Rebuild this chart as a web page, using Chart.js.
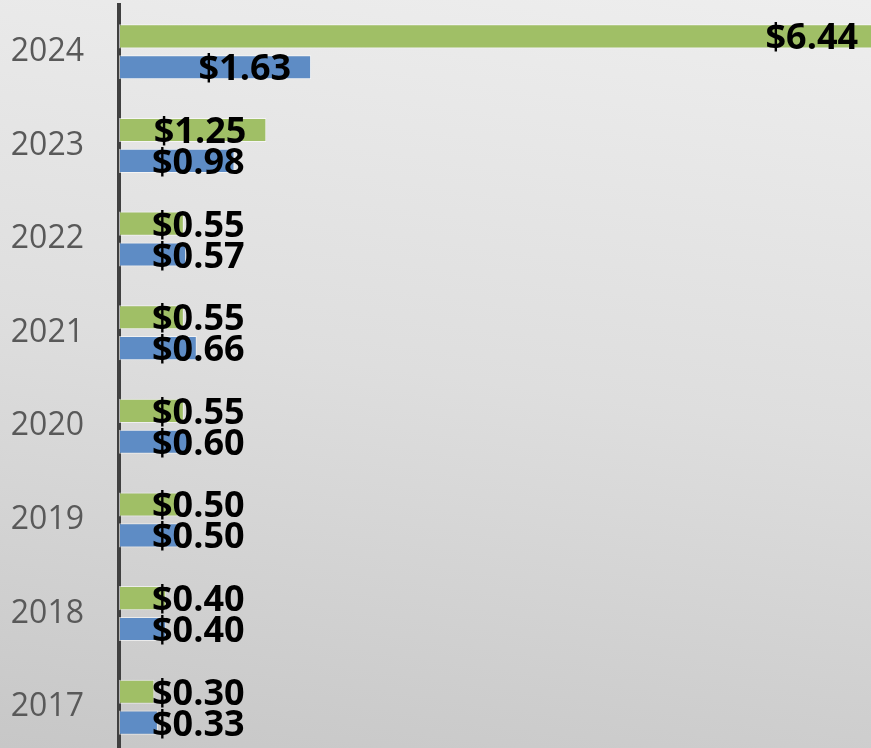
<!DOCTYPE html>
<html>
<head>
<meta charset="utf-8">
<script src="https://cdn.jsdelivr.net/npm/chart.js@4/dist/chart.umd.min.js"></script>
<style>
    html, body {
        margin: 0;
        padding: 0;
        width: 871px;
        height: 748px;
        overflow: hidden;
        background: linear-gradient(188deg, #eeeeee 0%, #dedede 50%, #c7c7c7 100%);
    }
    canvas { display: block; }
</style>
</head>
<body>
<canvas id="chart" width="871" height="760"></canvas>
<script>
const years = ["2024", "2023", "2022", "2021", "2020", "2019", "2018", "2017"];
const greenValues = [6.44, 1.25, 0.55, 0.55, 0.55, 0.50, 0.40, 0.30];
const blueValues = [1.63, 0.98, 0.57, 0.66, 0.60, 0.50, 0.40, 0.33];

const AXIS_LEFT = 119;

// value labels: inside the bar end, but never closer to the axis than 33px
const valueLabels = {
    id: "valueLabels",
    afterDatasetsDraw(chart) {
        const ctx = chart.ctx;
        const xScale = chart.scales.x;
        ctx.save();
        ctx.font = "bold 36px 'Open Sans'";
        ctx.fillStyle = "#000000";
        ctx.textAlign = "left";
        ctx.textBaseline = "alphabetic";
        chart.data.datasets.forEach((ds, di) => {
            const meta = chart.getDatasetMeta(di);
            meta.data.forEach((bar, i) => {
                const text = "$" + ds.data[i].toFixed(2);
                const w = ctx.measureText(text).width;
                const end = xScale.getPixelForValue(ds.data[i]);
                const right = Math.max(end - 20, AXIS_LEFT + 33 + w);
                ctx.fillText(text, right - w, bar.y + 13);
            });
        });
        ctx.restore();
    }
};

new Chart(document.getElementById("chart"), {
    type: "bar",
    data: {
        labels: years,
        datasets: [
            {
                label: "Series 1",
                data: greenValues,
                backgroundColor: "#a0bf66",
                borderColor: "rgba(255,255,255,0.6)",
                borderWidth: 1,
                borderSkipped: false,
                categoryPercentage: 0.66,
                barPercentage: 0.78,
            },
            {
                label: "Series 2",
                data: blueValues,
                backgroundColor: "#5e8cc5",
                borderColor: "rgba(255,255,255,0.6)",
                borderWidth: 1,
                borderSkipped: false,
                categoryPercentage: 0.66,
                barPercentage: 0.78,
            },
        ],
    },
    options: {
        indexAxis: "y",
        responsive: false,
        animation: false,
        layout: { padding: { top: 5, bottom: 6, left: 0, right: 0 } },
        plugins: {
            legend: { display: false },
            tooltip: { enabled: false },
        },
        scales: {
            x: {
                display: false,
                min: 0,
                max: 6.38,
            },
            y: {
                grid: { display: false, drawTicks: false },
                border: { display: true, color: "#404040", width: 4 },
                ticks: {
                    color: "#595959",
                    padding: 35,
                    font: { family: "'Open Sans'", size: 32 },
                },
                afterFit(scale) {
                    scale.width = AXIS_LEFT;
                    scale.paddingTop = 0;
                    scale.paddingBottom = 0;
                },
            },
        },
    },
    plugins: [valueLabels],
});
</script>
</body>
</html>
